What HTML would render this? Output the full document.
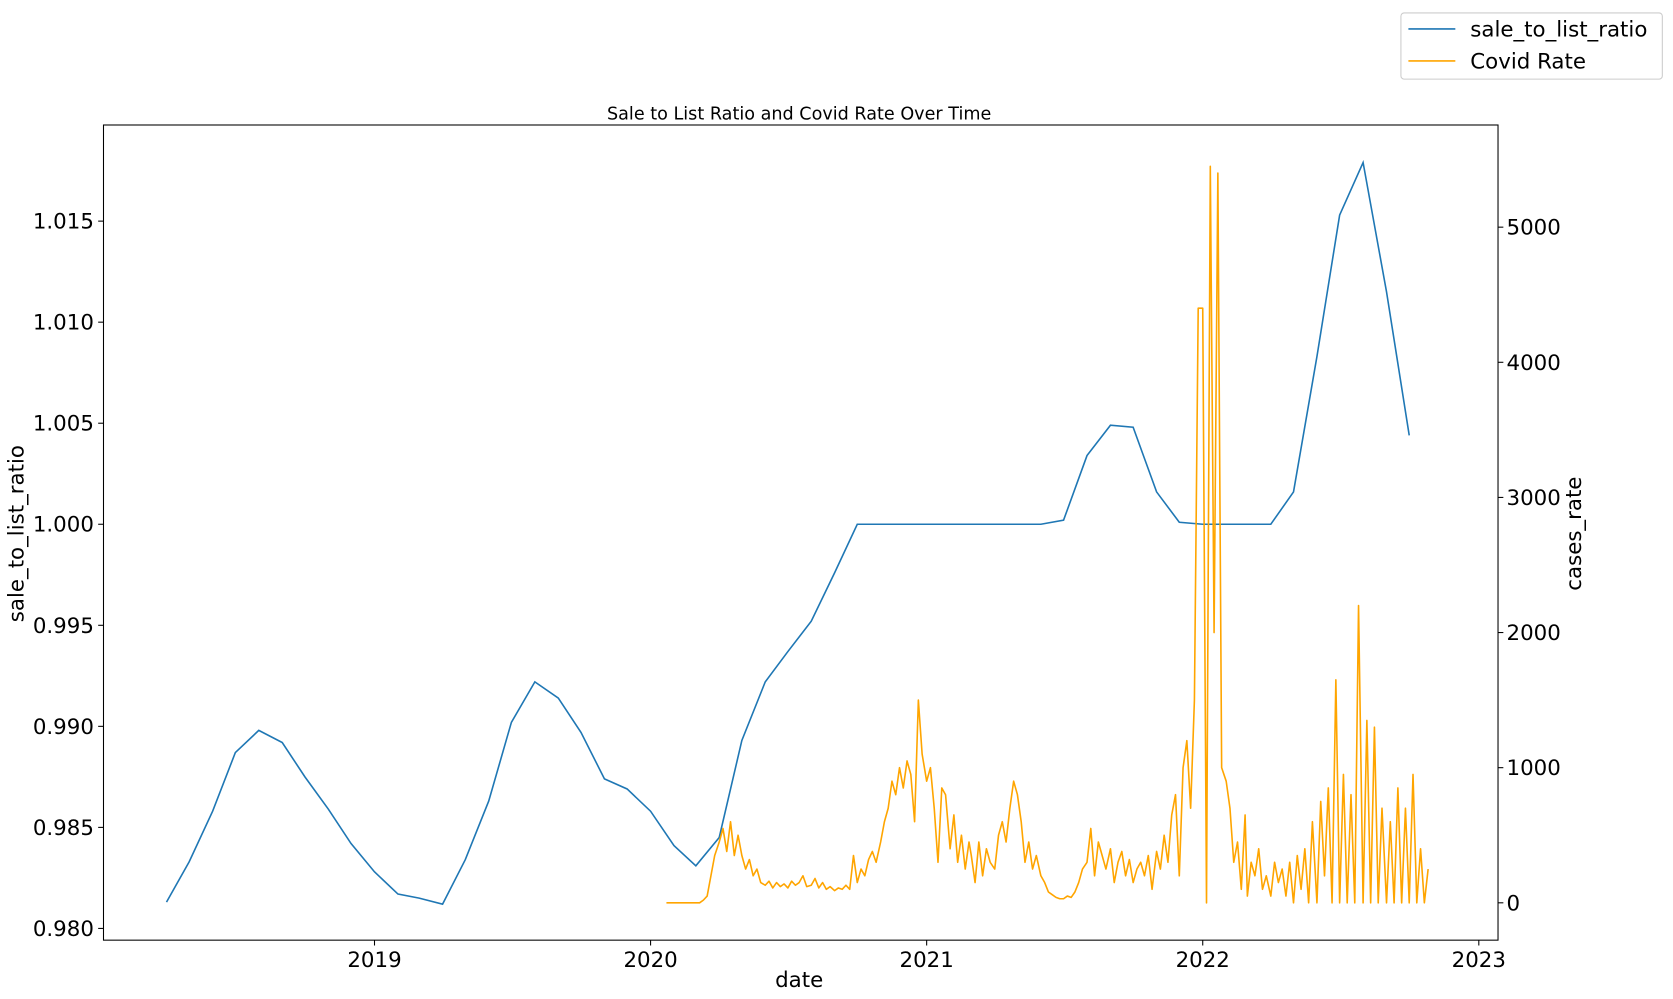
<!DOCTYPE html>
<html><head><meta charset="utf-8"><style>
html,body{margin:0;padding:0;background:#fff;}
svg{display:block;font-family:"DejaVu Sans","Liberation Sans",sans-serif;}
</style></head><body>
<svg id="chart" width="1673" height="999" viewBox="0 0 1568 936" xmlns="http://www.w3.org/2000/svg">
<text x="749" y="112" font-size="16.5" text-anchor="middle">Sale to List Ratio and Covid Rate Over Time</text>
<g id="lines"></g>
<rect x="97" y="117" width="1307" height="764" fill="none" stroke="#000" stroke-width="1"/>
<g id="axes"></g>
<text x="749" y="925" font-size="20" text-anchor="middle">date</text>
<text transform="translate(22,500) rotate(-90)" font-size="20" text-anchor="middle">sale_to_list_ratio</text>
<text transform="translate(1482,500) rotate(-90)" font-size="20" text-anchor="middle">cases_rate</text>
<g>
<rect x="1313" y="12" width="245" height="62" rx="3" fill="#fff" stroke="#ccc"/>
<line x1="1320" y1="27" x2="1364" y2="27" stroke="#1f77b4" stroke-width="1.5"/>
<text x="1378" y="34" font-size="20">sale_to_list_ratio</text>
<line x1="1320" y1="57" x2="1364" y2="57" stroke="#ffa500" stroke-width="1.5"/>
<text x="1378" y="64" font-size="20">Covid Rate</text>
</g>
</svg>
<script>
const saleStart = [2018, 4];
const saleValues = [0.9813,0.9833,0.9858,0.9887,0.9898,0.9892,0.9875,0.9859,0.9842,0.9828,0.9817,0.9815,0.9812,0.9834,0.9863,0.9902,0.9922,0.9914,0.9897,0.9874,0.9869,0.9858,0.9841,0.9831,0.9845,0.9893,0.9922,0.9937,0.9952,0.9976,1.0000,1.0000,1.0000,1.0000,1.0000,1.0000,1.0000,1.0000,1.0000,1.0002,1.0034,1.0049,1.0048,1.0016,1.0001,1.0000,1.0000,1.0000,1.0000,1.0016,1.0083,1.0153,1.0179,1.0115,1.0044];
const covidStartMonth = [2020, 2];
const covidDaysPerPoint = 5;
const covidValues = [
0,0,0,0,0,0,
0,0,20,50,200,350,
450,550,380,600,350,500,
350,250,320,200,250,150,
130,160,110,150,120,140,
110,160,130,150,200,120,
130,180,110,150,100,120,
90,110,100,130,100,350,
150,250,200,320,380,300,
450,600,700,900,800,1000,
850,1050,950,600,1500,1100,
900,1000,700,300,850,800,
400,650,300,500,250,450,
350,150,450,200,400,300,
250,500,600,450,700,900,
800,600,300,450,250,350,
200,150,80,60,40,30,
30,50,40,80,150,250,
300,550,200,450,350,250,
400,150,300,380,200,320,
150,250,300,200,350,100,
380,250,500,300,650,800,
200,1000,1200,700,1500,4400,
4400,0,5450,2000,5400,1000,
900,700,300,450,100,650,
50,300,200,400,100,200,
50,300,150,250,50,300,
0,350,100,400,0,600,
0,750,200,850,0,1650,
0,950,0,800,0,2200,
0,1350,0,1300,0,700,
0,600,0,850,0,700,
0,950,0,400,0,250];
const leftTicks = [0.980,0.985,0.990,0.995,1.000,1.005,1.010,1.015];
const rightTicks = [0,1000,2000,3000,4000,5000];
const xTicks = [2019,2020,2021,2022,2023];

const NS="http://www.w3.org/2000/svg";
function xScale(yearFrac){return 351+(yearFrac-2019)*258.75;}
function yLeft(v){return 870-(v-0.980)/0.005*94.7;}
function yRight(v){return 846-v*0.12665;}
function dateFrac(y,m,d){const t=Date.UTC(y,m-1,d);const s=Date.UTC(y,0,1),e=Date.UTC(y+1,0,1);return y+(t-s)/(e-s);}
const lines=document.getElementById('lines');
const axes=document.getElementById('axes');
function mk(tag,attrs,parent){const el=document.createElementNS(NS,tag);for(const k in attrs)el.setAttribute(k,attrs[k]);parent.appendChild(el);return el;}

let pts=saleValues.map((v,i)=>{const mi=saleStart[1]-1+i;const y=saleStart[0]+Math.floor(mi/12);const m=mi%12+1;return xScale(dateFrac(y,m,1)).toFixed(2)+','+yLeft(v).toFixed(2);});
const saleLine=mk('polyline',{points:pts.join(' '),fill:'none',stroke:'#1f77b4','stroke-width':1.5},lines);



pts=covidValues.map((v,i)=>{const mi=covidStartMonth[1]-1+Math.floor(i/6);const y=covidStartMonth[0]+Math.floor(mi/12);const m=mi%12+1;const d=1+(i%6)*covidDaysPerPoint;return xScale(dateFrac(y,m,d)).toFixed(2)+','+yRight(v).toFixed(2);});
pts.unshift(xScale(dateFrac(2020,1,22)).toFixed(2)+','+yRight(0).toFixed(2));
const covLine=mk('polyline',{points:pts.join(' '),fill:'none',stroke:'#ffa500','stroke-width':1.5,'stroke-linejoin':'round'},lines);



leftTicks.forEach(v=>{const y=yLeft(v);
 const t=mk('line',{x1:92,y1:y,x2:97,y2:y,stroke:'#000'},axes);
 
 
 const l=mk('text',{x:88,y:y+7,'font-size':20,'text-anchor':'end'},axes);l.textContent=v.toFixed(3);
 
 
});
rightTicks.forEach(v=>{const y=yRight(v);
 const t=mk('line',{x1:1404,y1:y,x2:1409,y2:y,stroke:'#000'},axes);
 
 
 const l=mk('text',{x:1412,y:y+7,'font-size':20},axes);l.textContent=v;
 
 
});
xTicks.forEach(v=>{const x=xScale(v);
 const t=mk('line',{x1:x,y1:881,x2:x,y2:886,stroke:'#000'},axes);
 
 
 const l=mk('text',{x:x,y:906,'font-size':20,'text-anchor':'middle'},axes);l.textContent=v;
 
 
});
</script>
</body></html>
